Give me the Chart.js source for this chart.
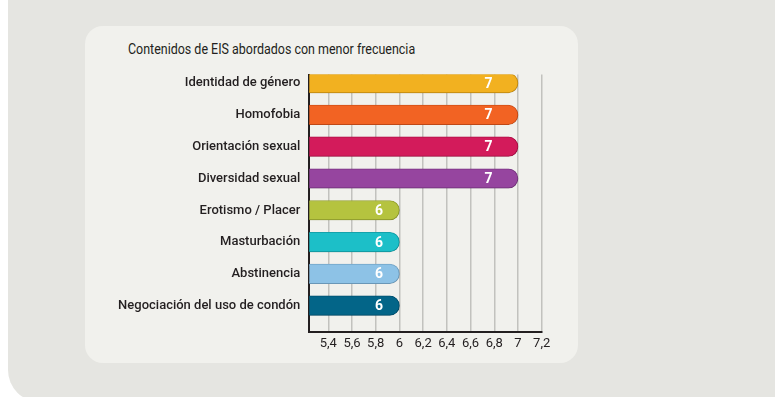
<!DOCTYPE html>
<html>
<head>
<meta charset="utf-8">
<script src="https://cdn.jsdelivr.net/npm/chart.js@4"></script>
<style>
  html, body { margin: 0; padding: 0; background: #ffffff; }
  body { width: 775px; height: 397px; position: relative; overflow: hidden; }
  #bg { position: absolute; left: 8px; top: -40px; width: 820px; height: 442px; background: #e5e5e1; border-radius: 32px; }
  #panel { position: absolute; left: 85px; top: 26px; width: 493px; height: 337px; background: #f1f1ed; border-radius: 18px; }
  #title { position: absolute; left: 127.5px; top: 40px; font: 15.5px Roboto, sans-serif; color: #231f20; white-space: nowrap; transform-origin: 0 0; }
  #wrap { position: absolute; left: 0; top: 0; width: 775px; height: 397px; }
</style>
</head>
<body>
<div id="bg"></div>
<div id="panel"></div>
<div id="title">Contenidos de EIS abordados con menor frecuencia</div>
<div id="wrap"><canvas id="canvas"></canvas></div>
<script>
const categories = [
  "Identidad de género",
  "Homofobia",
  "Orientación sexual",
  "Diversidad sexual",
  "Erotismo / Placer",
  "Masturbación",
  "Abstinencia",
  "Negociación del uso de condón"
];
const values = [7, 7, 7, 7, 6, 6, 6, 6];
const xTickValues = [5.4, 5.6, 5.8, 6, 6.2, 6.4, 6.6, 6.8, 7, 7.2];
const xTickLabels = ["5,4", "5,6", "5,8", "6", "6,2", "6,4", "6,6", "6,8", "7", "7,2"];

const barColors = ["#f2b120", "#f26323", "#d31b5b", "#96459f", "#b5c33f", "#1cbfc8", "#8dc2e6", "#036588"];
const barEdges = ["#e0a015", "#e0551a", "#bf124e", "#843b8e", "#a3b035", "#15abb4", "#7cb1d6", "#02587a"];

// condensed look for the title
const title = document.getElementById("title");
title.style.transform = "scaleX(" + (287 / title.scrollWidth) + ")";

const shadowPlugin = {
  id: "barShadow",
  beforeDatasetsDraw(chart) {
    const ctx = chart.ctx;
    ctx.save();
    ctx.shadowColor = "rgba(0,0,0,0.22)";
    ctx.shadowBlur = 6;
    ctx.shadowOffsetX = 3;
    ctx.shadowOffsetY = 2;
  },
  afterDatasetsDraw(chart) {
    const ctx = chart.ctx;
    ctx.restore();
    // value labels inside the bars
    const meta = chart.getDatasetMeta(0);
    const left = chart.chartArea.left;
    ctx.save();
    ctx.fillStyle = "#ffffff";
    ctx.font = "bold 14px Roboto, sans-serif";
    ctx.textAlign = "center";
    ctx.textBaseline = "middle";
    meta.data.forEach((bar, i) => {
      const len = bar.x - left;
      ctx.fillText(String(values[i]), bar.x - 13.4 - 0.0765 * len, bar.y + 1);
    });
    ctx.restore();
  }
};

new Chart(document.getElementById("canvas"), {
  type: "bar",
  data: {
    datasets: [{
      data: values.map((v, i) => ({ x: v, y: i })),
      backgroundColor: barColors,
      borderColor: barEdges,
      borderWidth: 1,
      borderRadius: 10,
      borderSkipped: "start",
      barThickness: 19.5
    }]
  },
  options: {
    indexAxis: "y",
    responsive: true,
    maintainAspectRatio: false,
    animation: false,
    layout: { padding: { left: 0, top: 74.5, right: 233.3, bottom: 35.3 } },
    plugins: { legend: { display: false }, tooltip: { enabled: false } },
    scales: {
      x: {
        type: "linear",
        min: 5.24,
        max: 7.2,
        afterBuildTicks: (s) => { s.ticks = xTickValues.map(v => ({ value: v })); },
        afterFit: (s) => { s.height = 30; },
        ticks: {
          autoSkip: false,
          maxRotation: 0,
          padding: 4,
          color: "#231f20",
          font: { family: "Roboto", size: 13 },
          callback: (v, i) => xTickLabels[i]
        },
        grid: { color: "#c2c2be", lineWidth: 1.5, drawTicks: false },
        border: { color: "#231f20", width: 2 }
      },
      y: {
        type: "linear",
        reverse: true,
        offset: false,
        min: -0.27,
        max: 7.82,
        afterBuildTicks: (s) => { s.ticks = categories.map((c, i) => ({ value: i })); },
        afterFit: (s) => { s.width = 309.3; },
        ticks: {
          autoSkip: false,
          padding: 9,
          color: "#231f20",
          font: { family: "Roboto", size: 13, weight: "500" },
          callback: (v) => categories[v]
        },
        grid: { display: false, drawTicks: false, offset: false },
        border: { color: "#231f20", width: 2 }
      }
    }
  },
  plugins: [shadowPlugin]
});
</script>
</body>
</html>
